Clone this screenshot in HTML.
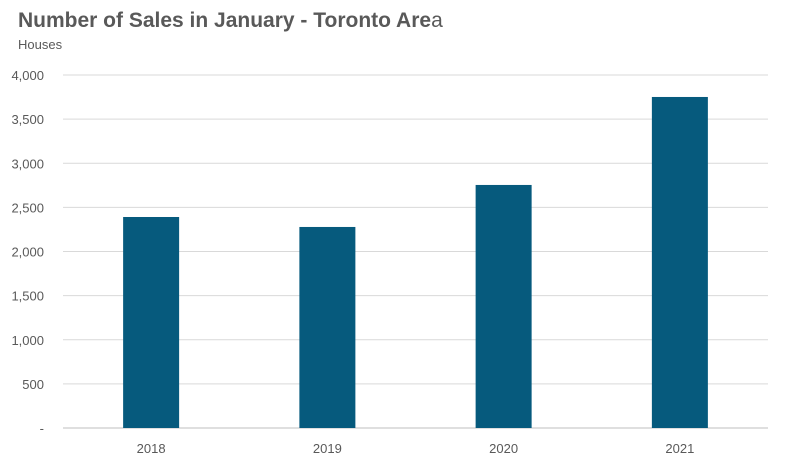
<!DOCTYPE html>
<html><head><meta charset="utf-8"><style>
body{margin:0;background:#fff;font-family:"Liberation Sans",Arial,sans-serif;}
#wrap{position:relative;width:785px;height:466px;overflow:hidden;}
#title{position:absolute;left:18px;top:9px;font-size:21px;font-weight:bold;color:#595959;}
#sub{position:absolute;left:18px;top:37px;font-size:13px;color:#595959;}
</style></head><body>
<div id="wrap">
<div id="title">Number of Sales in January - Toronto Are<span style="font-weight:normal">a</span></div>
<div id="sub">Houses</div>
<svg id="svg" width="785" height="466" style="position:absolute;left:0;top:0"></svg>
</div>
<script>
const categories=["2018","2019","2020","2021"];
const values=[2391,2278,2754,3751];
const ticks=[0,500,1000,1500,2000,2500,3000,3500,4000];
const tickLabels=["-","500","1,000","1,500","2,000","2,500","3,000","3,500","4,000"];
const svg=document.getElementById('svg');
const NS="http://www.w3.org/2000/svg";
const x0=63,x1=768,yb=428,yt=75,ymax=4000;
const y=v=>yb-(v/ymax)*(yb-yt);
const bw=(x1-x0)/categories.length;
const xc=i=>x0+bw*(i+0.5);
function mk(t,a){const e=document.createElementNS(NS,t);for(const k in a)e.setAttribute(k,a[k]);svg.appendChild(e);return e;}
ticks.forEach((t,i)=>{
 if(t>0){const l=mk('line',{x1:x0,x2:x1,y1:y(t),y2:y(t),stroke:'#d9d9d9','stroke-width':1});
 
 }
 const tx=mk('text',{x:44,y:y(t)+5,'text-anchor':'end','font-size':13,fill:'#595959','font-family':'Liberation Sans, sans-serif'});
 tx.textContent=tickLabels[i];
 
 
});
const ax=mk('line',{x1:x0,x2:x1,y1:yb,y2:yb,stroke:'#bfbfbf','stroke-width':1});


categories.forEach((c,i)=>{
 const r=mk('rect',{x:xc(i)-28,y:y(values[i]),width:56,height:yb-y(values[i]),fill:'#065a7d'});
 
 
 const tx=mk('text',{x:xc(i),y:453,'text-anchor':'middle','font-size':13,fill:'#595959','font-family':'Liberation Sans, sans-serif'});
 tx.textContent=c;
 
 
});
</script>
</body></html>
